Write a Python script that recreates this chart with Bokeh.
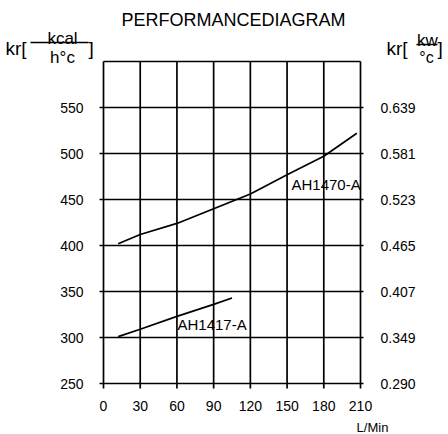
from bokeh.plotting import figure
from bokeh.models import Label, Range1d
from bokeh.core.properties import value
from bokeh.embed import file_html
from bokeh.resources import INLINE

# ---- data ----
x_ticks = [0, 30, 60, 90, 120, 150, 180, 210]
y_ticks = [250, 300, 350, 400, 450, 500, 550]
y_top = 600
kw_labels = ["0.290", "0.349", "0.407", "0.465", "0.523", "0.581", "0.639"]

ah1470_flow = [12, 30, 60, 90, 120, 150, 180, 207]
ah1470_kr = [402, 412, 424, 440, 456, 477, 497, 522]
ah1417_flow = [12, 30, 60, 90, 105]
ah1417_kr = [301, 309, 323, 336, 343]

FONT = "Liberation Sans"
W, H = 448, 434

# plot frame (in canvas pixels) where x 0..210 and y 250..600 live
FL, FR, FT, FB = 103, 360, 61, 383
x0, x1 = x_ticks[0], x_ticks[-1]
y0, y1 = y_ticks[0], y_top
sx = (x1 - x0) / (FR - FL)   # data per pixel
sy = (y1 - y0) / (FB - FT)

def dx(px):
    return x0 + (px - FL) * sx

def dy(py):
    return y1 - (py - FT) * sy

p = figure(width=W, height=H, output_backend="svg", toolbar_location=None,
           x_range=Range1d(dx(0), dx(W)), y_range=Range1d(dy(H), dy(0)),
           x_axis_location=None, y_axis_location=None,
           min_border=0)
p.outline_line_color = None
p.background_fill_color = "white"
p.border_fill_color = "white"
p.xgrid.visible = False
p.ygrid.visible = False

LW = 1.7
tick_x = 4 * sx   # left tick length
tick_r = 3 * sx   # right tick length
tick_y = 5 * sy   # bottom tick length

# vertical grid lines (with bottom ticks)
p.segment(x0=x_ticks, y0=[y0 - tick_y] * len(x_ticks),
          x1=x_ticks, y1=[y1] * len(x_ticks),
          line_color="black", line_width=LW)
# horizontal grid lines (with left/right ticks)
p.segment(x0=[x0 - tick_x] * len(y_ticks), y0=y_ticks,
          x1=[x1 + tick_r] * len(y_ticks), y1=y_ticks,
          line_color="black", line_width=LW)
# top border
p.segment(x0=[x0], y0=[y1], x1=[x1], y1=[y1], line_color="black", line_width=LW)

# tick labels
p.text(x=[x0] * len(y_ticks), y=y_ticks, text=[str(v) for v in y_ticks],
       x_offset=-20, text_align="right", text_baseline="middle",
       text_font=value(FONT), text_font_size="14px", text_color="black")
p.text(x=[x1] * len(y_ticks), y=y_ticks, text=kw_labels,
       x_offset=20, text_align="left", text_baseline="middle",
       text_font=value(FONT), text_font_size="14px", text_color="black")
p.text(x=x_ticks, y=[y0] * len(x_ticks), text=[str(v) for v in x_ticks],
       y_offset=22, text_align="center", text_baseline="middle",
       text_font=value(FONT), text_font_size="14px", text_color="black")

# curves
p.line(ah1470_flow, ah1470_kr, line_color="black", line_width=1.7)
p.line(ah1417_flow, ah1417_kr, line_color="black", line_width=1.7)

def lab(text, px, py, size, align="left", baseline="middle"):
    p.add_layout(Label(x=dx(px), y=dy(py), text=text, text_font=FONT,
                       text_font_size=size, text_align=align,
                       text_baseline=baseline, text_color="black"))

def hline(px0, px1, py):
    p.line([dx(px0), dx(px1)], [dy(py), dy(py)], line_color="black", line_width=1.3)

lab("AH1470-A", 291, 184, "15px")
lab("AH1417-A", 177, 324, "15px")

lab("PERFORMANCEDIAGRAM", 233, 19, "18px", align="center")

# left unit label
lab("kr[", 5, 48, "19px", baseline="alphabetic")
lab("kcal", 62, 38, "17px", align="center", baseline="alphabetic")
hline(30, 88, 42)
lab("h°c", 62, 57, "17px", align="center", baseline="alphabetic")
lab("]", 88, 48, "19px", baseline="alphabetic")

# right unit label
lab("kr[", 386, 48, "19px", baseline="alphabetic")
lab("kw", 427, 40, "17px", align="center", baseline="alphabetic")
hline(416, 437, 44)
lab("°c", 426, 57, "16px", align="center", baseline="alphabetic")
lab("]", 437, 48, "19px", baseline="alphabetic")

lab("L/Min", 372, 427, "13px", align="center")

open("out.html", "w").write(file_html(p, INLINE))
